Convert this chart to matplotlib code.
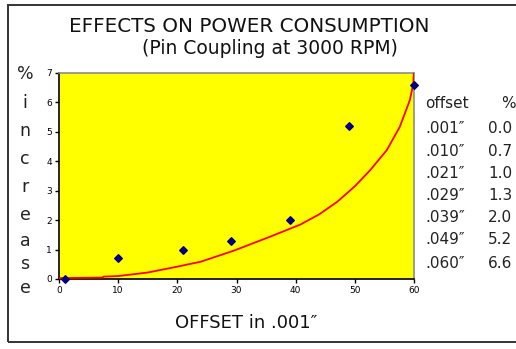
import matplotlib
matplotlib.use("Agg")
import matplotlib.pyplot as plt
from matplotlib.patches import Rectangle

# Measured points (offset in .001", % increase in power)
offset = [1, 10, 21, 29, 39, 49, 60]
increase = [0.0, 0.7, 1.0, 1.3, 2.0, 5.2, 6.6]

# Trend curve through the measurements
trend_x = [0, 7.4, 7.5, 10, 15, 20, 24, 29.5, 35.2, 40.8, 44.0, 47, 50.0, 52.6,
           55.4, 57.6, 59.3, 59.9, 60.0]
trend_y = [0.03, 0.05, 0.08, 0.1, 0.22, 0.42, 0.59, 0.96, 1.40, 1.85, 2.20, 2.62,
           3.15, 3.70, 4.38, 5.17, 6.08, 6.65, 7.2]

# Table text
table_offsets = ['.001″', '.010″', '.021″', '.029″', '.039″', '.049″', '.060″']
table_pct = ["0.0", "0.7", "1.0", "1.3", "2.0", "5.2", "6.6"]

x_ticks = [0, 10, 20, 30, 40, 50, 60]
y_ticks = [0, 1, 2, 3, 4, 5, 6, 7]
ylabel_letters = ["%", "i", "n", "c", "r", "e", "a", "s", "e"]

W, H = 516, 349
fig = plt.figure(figsize=(W / 100, H / 100), dpi=100)
fig.patch.set_facecolor("white")

def fx(px):
    return px / W

def fy(py):
    return 1 - py / H

# Outer frame
fig.patches.append(Rectangle((fx(8), fy(342)), 1.2, fy(5) - fy(342),
                             transform=fig.transFigure, fill=False,
                             edgecolor="#333333", linewidth=1.4))

ax = fig.add_axes([fx(59), fy(279), fx(414) - fx(59), fy(73) - fy(279)])
ax.set_facecolor("#ffff00")
ax.set_xlim(0, 60)
ax.set_ylim(0, 7)

ax.plot(trend_x, trend_y, color="#ff0000", linewidth=1.3, clip_on=True, zorder=3)
ax.scatter(offset, increase, marker="D", s=15, color="#000080", zorder=4,
           clip_on=False)

for side in ("top", "right"):
    ax.spines[side].set_color("#8c8c8c")
    ax.spines[side].set_linewidth(1.2)
for side in ("left", "bottom"):
    ax.spines[side].set_color("black")
    ax.spines[side].set_linewidth(1.2)

ax.set_xticks(x_ticks)
ax.set_yticks(y_ticks)
ax.tick_params(axis="both", direction="out", length=3, width=1, labelsize=6.5,
               pad=2, colors="black")

# Titles
fig.text(fx(249), fy(27), "EFFECTS ON POWER CONSUMPTION", ha="center",
         va="center", fontsize=14.3, family="DejaVu Sans", color="#111111")
fig.text(fx(270), fy(48), "(Pin Coupling at 3000 RPM)", ha="center",
         va="center", fontsize=13.5, family="DejaVu Sans", color="#111111")

# Stacked vertical y label
ypos = [74, 103, 131, 159, 187, 215, 241, 264, 288]
for ch, py in zip(ylabel_letters, ypos):
    fig.text(fx(25), fy(py), ch, ha="center", va="center", fontsize=12.5,
             color="#222222")

fig.text(fx(246), fy(323), 'OFFSET in .001″', ha="center", va="center",
         fontsize=13, color="#111111")

# Data table
fig.text(fx(425), fy(103), "offset", ha="left", va="center", fontsize=11,
         color="#222222")
fig.text(fx(501), fy(103), "%", ha="left", va="center", fontsize=11,
         color="#222222")
row_y = [129, 151, 174, 196, 218, 240, 263]
for off, pct, py in zip(table_offsets, table_pct, row_y):
    fig.text(fx(425), fy(py), off, ha="left", va="center", fontsize=11,
             color="#222222")
    fig.text(fx(488), fy(py), pct, ha="left", va="center", fontsize=11,
             color="#222222")

fig.savefig("out.png", dpi=100)
